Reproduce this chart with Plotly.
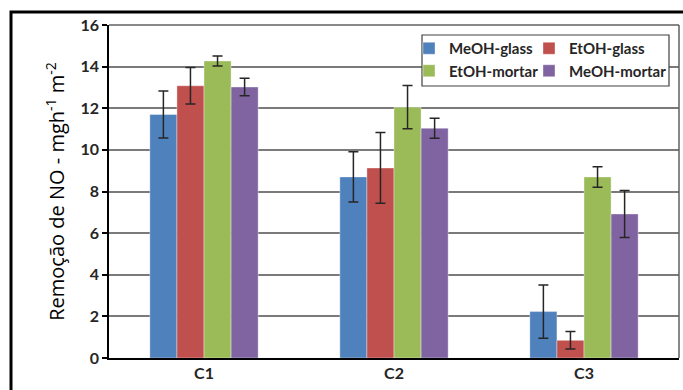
import plotly.graph_objects as go

categories = ["C1", "C2", "C3"]
series_names = ["MeOH-glass", "EtOH-glass", "EtOH-mortar", "MeOH-mortar"]
colors = ["#4F81BD", "#C0504D", "#9BBB59", "#8064A2"]
legend_column = ["legend", "legend2", "legend", "legend2"]
values = {
    "MeOH-glass": [11.70, 8.70, 2.23],
    "EtOH-glass": [13.08, 9.13, 0.85],
    "EtOH-mortar": [14.27, 12.05, 8.70],
    "MeOH-mortar": [13.02, 11.04, 6.92],
}
errors = {
    "MeOH-glass": [1.13, 1.21, 1.28],
    "EtOH-glass": [0.88, 1.70, 0.42],
    "EtOH-mortar": [0.24, 1.04, 0.49],
    "MeOH-mortar": [0.42, 0.48, 1.13],
}
y_ticks = [0, 2, 4, 6, 8, 10, 12, 14, 16]

fig = go.Figure()
for name, col, lg in zip(series_names, colors, legend_column):
    fig.add_trace(go.Bar(
        x=categories, y=values[name], name=name, legend=lg, legendgroup=name,
        marker=dict(color=col, line=dict(color="rgba(255,255,255,0.6)", width=0.6)),
        error_y=dict(type="data", array=errors[name], color="#262626", thickness=1.5, width=5),
    ))

L, R, T, B = 109, 4, 25, 32
W, H = 683, 390
pw, ph = W - L - R, H - T - B

def px_x(p):
    return (p - L) / pw

def px_y(p):
    return (H - B - p) / ph

legend_font = dict(size=15, color="#262626", weight="bold", family="Lato, sans-serif")
common_legend = dict(
    orientation="v", yanchor="top", xanchor="left",
    bgcolor="rgba(0,0,0,0)", borderwidth=0,
    font=legend_font, traceorder="normal", tracegroupgap=6, itemwidth=30,
)

fig.update_layout(
    width=W, height=H,
    margin=dict(l=L, r=R, t=T, b=B),
    paper_bgcolor="white", plot_bgcolor="white",
    barmode="group", bargap=0.43, bargroupgap=0,
    font=dict(family="Lato, Open Sans, sans-serif", color="#262626"),
    showlegend=True,
    legend=dict(x=px_x(409), y=px_y(32), **common_legend),
    legend2=dict(x=px_x(529), y=px_y(32), **common_legend),
    xaxis=dict(
        showline=True, linecolor="#000000", linewidth=1.5, mirror=False,
        tickfont=dict(size=16, weight="bold", color="#262626"),
        ticks="", showgrid=False,
    ),
    yaxis=dict(
        range=[0, 16], tickvals=y_ticks, ticktext=[str(v) for v in y_ticks],
        showline=True, linecolor="#000000", linewidth=1.5,
        ticks="outside", ticklen=5, tickcolor="#000000", tickwidth=1.5,
        showgrid=True, gridcolor="#7a7a7a", gridwidth=1.8,
        tickfont=dict(size=16, weight="bold", color="#262626"),
        title=dict(text="Remoção de NO - mgh<sup>-1</sup> m<sup>-2</sup>",
                   font=dict(size=20, color="#000000", family="Open Sans, sans-serif"),
                   standoff=10),
        zeroline=False,
    ),
    shapes=[
        dict(type="line", xref="paper", yref="paper", x0=0, x1=1, y0=1, y1=1,
             line=dict(color="#606060", width=1.5)),
        dict(type="line", xref="paper", yref="paper", x0=1, x1=1, y0=0, y1=1,
             line=dict(color="#606060", width=1.5)),
        dict(type="rect", xref="paper", yref="paper",
             x0=px_x(422), x1=px_x(669), y0=px_y(86), y1=px_y(35),
             line=dict(color="#404040", width=1.2), fillcolor="white", layer="above"),
        dict(type="rect", xref="paper", yref="paper",
             x0=px_x(11), x1=px_x(700), y0=px_y(420), y1=px_y(12),
             line=dict(color="#000000", width=3), layer="above"),
    ],
)

fig.write_html("out.html")
